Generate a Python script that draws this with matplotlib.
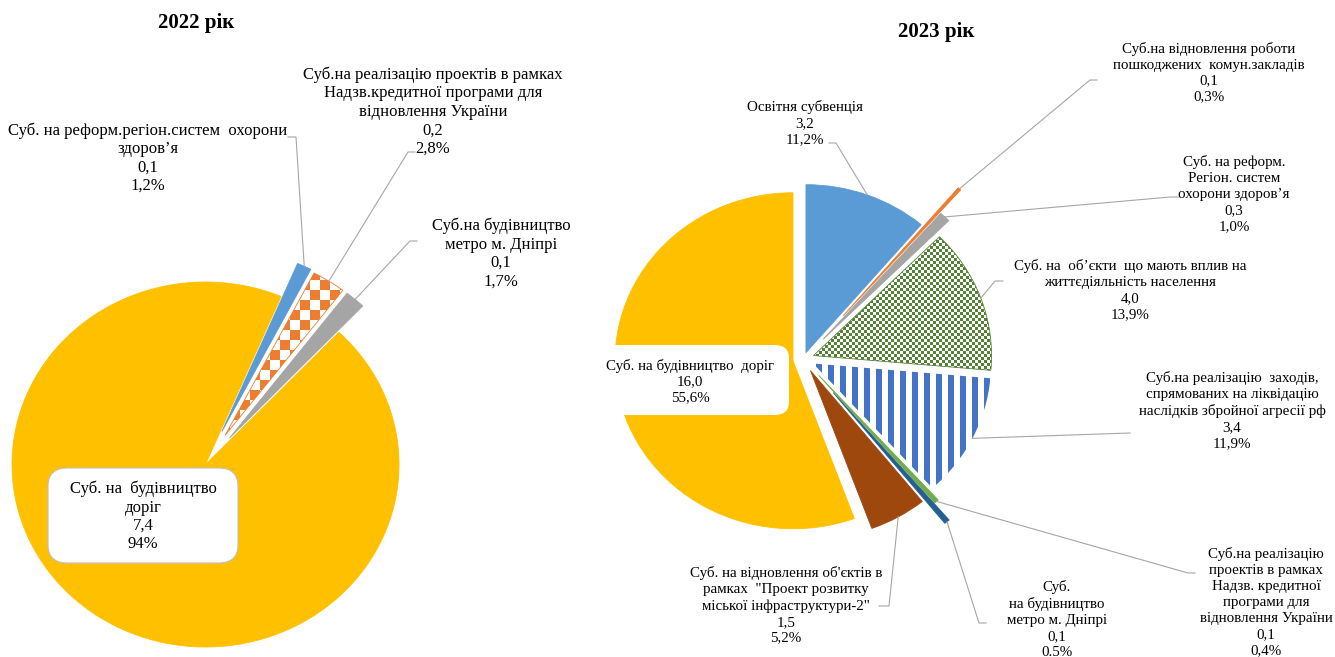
import numpy as np
import matplotlib
matplotlib.use("Agg")
import matplotlib.pyplot as plt
from matplotlib.colors import to_rgb
from matplotlib.patches import FancyBboxPatch

W, H = 1335, 657

# 2022 data (clockwise from the upper right)
names_22 = ["Суб. на реформ.регіон.систем  охорони\nздоров’я",
            "Суб.на реалізацію проектів в рамках\nНадзв.кредитної програми для\nвідновлення України",
            "Суб.на будівництво\nметро м. Дніпрі",
            "Суб. на  будівництво\nдоріг"]
values_22 = [0.1, 0.2, 0.1, 7.4]
shares_22 = [1.2, 2.8, 1.7, 94]
share_txt_22 = ["1,2%", "2,8%", "1,7%", "94%"]

# 2023 data (clockwise from 12 o'clock)
names_23 = ["Освітня субвенція",
            "Суб.на відновлення роботи\nпошкоджених  комун.закладів",
            "Суб. на реформ.\nРегіон. систем\nохорони здоров’я",
            "Суб. на  об’єкти  що мають вплив на\nжиттєдіяльність населення",
            "Суб.на реалізацію  заходів,\nспрямованих на ліквідацію\nнаслідків збройної агресії рф",
            "Суб.на реалізацію\nпроектів в рамках\nНадзв. кредитної\nпрограми для\nвідновлення України",
            "Суб.\nна будівництво\nметро м. Дніпрі",
            "Суб. на відновлення об'єктів в\nрамках  \"Проект розвитку\nміської інфраструктури-2\"",
            "Суб. на будівництво  доріг"]
values_23 = [3.2, 0.1, 0.3, 4.0, 3.4, 0.1, 0.1, 1.5, 16.0]
shares_23 = [11.2, 0.3, 1.0, 13.9, 11.9, 0.4, 0.5, 5.2, 55.6]
share_txt_23 = ["11,2%", "0,3%", "1,0%", "13,9%", "11,9%", "0,4%", "0.5%", "5,2%", "55,6%"]

SERIF = "Liberation Serif"
LEADER = "#A6A6A6"

fig = plt.figure(figsize=(W / 100, H / 100), dpi=100)


def make_ax(cx, cy, rx, ry):
    ax = fig.add_axes([0, 0, 1, 1])
    ax.axis("off")
    ax.geom = (cx, cy, rx, ry)
    return ax


def fix_limits(ax):
    cx, cy, rx, ry = ax.geom
    ax.set_xlim(-cx / rx, (W - cx) / rx)
    ax.set_ylim(-(H - cy) / ry, cy / ry)
    ax.set_aspect("auto")


def to_data(ax, x, y):
    cx, cy, rx, ry = ax.geom
    return (x - cx) / rx, (cy - y) / ry


def pattern(kind, color, size):
    yy, xx = np.mgrid[0:H, 0:W]
    if kind == "checker":
        mask = ((xx // size + yy // size) % 2) == 0
    else:  # vertical stripes
        mask = (xx % size) < size // 2
    img = np.ones((H, W, 4))
    img[mask, :3] = to_rgb(color)
    return img


def fill_pattern(ax, wedge, kind, color, size):
    fix_limits(ax)
    x0, x1 = ax.get_xlim()
    y0, y1 = ax.get_ylim()
    im = ax.imshow(pattern(kind, color, size), extent=(x0, x1, y0, y1),
                   origin="upper", interpolation="nearest", aspect="auto", zorder=0.5)
    im.set_clip_path(wedge)
    wedge.set_facecolor("none")


def wedge_tip(wedge):
    mid = np.deg2rad((wedge.theta1 + wedge.theta2) / 2)
    return (wedge.center[0] + wedge.r * np.cos(mid),
            wedge.center[1] + wedge.r * np.sin(mid))


def leader(ax, wedge, pts):
    tx, ty = wedge_tip(wedge)
    xs, ys = [tx], [ty]
    for p in pts:
        dx, dy = to_data(ax, *p)
        xs.append(dx)
        ys.append(dy)
    ax.plot(xs, ys, color=LEADER, lw=0.8, zorder=3)


def fmt(v):
    return f"{v:.1f}".replace(".", ",")


def label(ax, x, y, txt, size, spacing):
    ax.text(*to_data(ax, x, y), txt, ha="center", va="center", fontsize=size,
            family=SERIF, linespacing=spacing, multialignment="center", zorder=5)


# ---------------- 2022 ----------------
ax1 = make_ax(205.5, 464.5, 193.5, 182.5)
colors_22 = ["#5B9BD5", "#ED7D31", "#A5A5A5", "#FFC000"]
explode_22 = [0.2, 0.19, 0.19, 0]
w22, _ = ax1.pie(shares_22, explode=explode_22, colors=colors_22, startangle=67,
                 counterclock=False, wedgeprops=dict(lw=0.6))
for w, c in zip(w22, colors_22):
    w.set_edgecolor(c)
fill_pattern(ax1, w22[1], "checker", "#ED7D31", 10)
fix_limits(ax1)

ax1.text(*to_data(ax1, 196, 23), "2022 рік", ha="center", va="center",
         fontsize=15, fontweight="bold", family=SERIF)

lab_22 = [f"{n}\n{fmt(v)}\n{s}" for n, v, s in zip(names_22, values_22, share_txt_22)]
pos_22 = [(148, 158), (433, 111.5), (501, 253.5), (143, 516.5)]
size_22 = 12
for i in range(3):
    label(ax1, *pos_22[i], lab_22[i], size_22, 1.2)
leader(ax1, w22[0], [(296, 137), (288, 137)])
leader(ax1, w22[1], [(408, 152), (415, 152)])
leader(ax1, w22[2], [(410, 241), (417, 241)])

bx0, by0 = to_data(ax1, 48, 563)
bx1, by1 = to_data(ax1, 238, 468)
ax1.add_patch(FancyBboxPatch((bx0, by0), bx1 - bx0, by1 - by0,
                             boxstyle="round,pad=0,rounding_size=0.1",
                             fc="white", ec="#BFBFBF", lw=0.8, zorder=4))
label(ax1, *pos_22[3], lab_22[3], size_22, 1.2)

# ---------------- 2023 ----------------
ax2 = make_ax(803.5, 359, 178, 168)
colors_23 = ["#5B9BD5", "#ED7D31", "#A5A5A5", "#548235", "#4472C4",
             "#70AD47", "#255E91", "#9E480E", "#FFC000"]
explode_23 = [0.04, 0.34, 0.16, 0.06, 0.06, 0.13, 0.26, 0.08, 0.06]
w23, _ = ax2.pie(shares_23, explode=explode_23, colors=colors_23, startangle=90,
                 counterclock=False, wedgeprops=dict(lw=0.6))
for w, c in zip(w23, colors_23):
    w.set_edgecolor(c)
fill_pattern(ax2, w23[3], "checker", "#548235", 3)
fill_pattern(ax2, w23[4], "stripes", "#4472C4", 12)
w23[4].set_edgecolor("none")
fix_limits(ax2)

ax2.text(*to_data(ax2, 936, 32), "2023 рік", ha="center", va="center",
         fontsize=15, fontweight="bold", family=SERIF)

lab_23 = [f"{n}\n{fmt(v)}\n{s}" for n, v, s in zip(names_23, values_23, share_txt_23)]
pos_23 = [(805, 123), (1209, 72.5), (1234, 194), (1130, 290), (1232, 410.5),
          (1266, 602), (1057, 619.5), (786, 605.5), (690, 381.5)]
size_23 = 10.8
for i in range(8):
    label(ax2, *pos_23[i], lab_23[i], size_23, 1.29)
leader(ax2, w23[0], [(836, 143), (829, 143)])
leader(ax2, w23[1], [(1090, 80), (1097, 80)])
leader(ax2, w23[2], [(1170, 197), (1179, 197)])
leader(ax2, w23[3], [(995, 281), (1003, 281)])
leader(ax2, w23[4], [(1130, 433)])
leader(ax2, w23[5], [(1188, 573), (1195, 573)])
leader(ax2, w23[6], [(979, 623), (986, 623)])
leader(ax2, w23[7], [(889, 606), (879, 606)])

bx0, by0 = to_data(ax2, 588, 415)
bx1, by1 = to_data(ax2, 789, 345)
ax2.add_patch(FancyBboxPatch((bx0, by0), bx1 - bx0, by1 - by0,
                             boxstyle="round,pad=0,rounding_size=0.08",
                             fc="white", ec="none", lw=0, zorder=4))
label(ax2, *pos_23[8], lab_23[8], size_23, 1.29)

fig.savefig("out.png", dpi=100)
